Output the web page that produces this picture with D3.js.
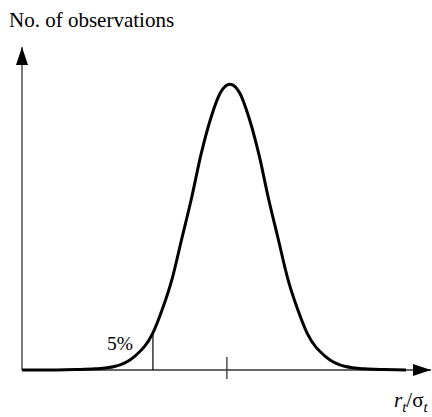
<!DOCTYPE html>
<html>
<head>
<meta charset="utf-8">
<script src="https://cdn.jsdelivr.net/npm/d3@7"></script>
<style>
  body { margin: 0; background: #fff; }
</style>
</head>
<body>
<script>
var width = 432, height = 417;
var serif = "'Liberation Serif', 'Times New Roman', Times, 'DejaVu Serif', serif";

// curve: x in units of sigma from the mean, y relative to peak
var curveX = [-5.4, -4.5, -4, -3.5, -3, -2.5, -2, -1.75, -1.5, -1.25, -1, -0.75, -0.5, -0.25, 0,
              0.25, 0.5, 0.75, 1, 1.25, 1.5, 1.75, 2, 2.5, 3, 3.5, 4, 4.57];
var curveY = [0, 0.0003, 0.0015, 0.004, 0.012, 0.045, 0.13, 0.215, 0.32, 0.46, 0.6, 0.755, 0.88, 0.97, 1,
              0.97, 0.88, 0.755, 0.6, 0.46, 0.32, 0.215, 0.13, 0.045, 0.012, 0.004, 0.0015, 0];
var cutoff = -2;     // the 5% line
var meanTick = -0.08;
var yLabel = "No. of observations";
var cutLabel = "5%";

var x = d3.scaleLinear().domain([-5.4, 5.22]).range([22, 431]);
var y = d3.scaleLinear().domain([0, 1.13]).range([370, 47]);

var svg = d3.select("body").append("svg")
    .attr("width", width)
    .attr("height", height);

var defs = svg.append("defs");
defs.append("marker")
    .attr("id", "arrow")
    .attr("viewBox", "0 0 18 12")
    .attr("refX", 18).attr("refY", 6)
    .attr("markerWidth", 18).attr("markerHeight", 12)
    .attr("markerUnits", "userSpaceOnUse")
    .attr("orient", "auto")
  .append("path")
    .attr("d", "M0,0L18,6L0,12Z")
    .attr("fill", "#000");

// axes
svg.append("line")
    .attr("x1", x(-5.4)).attr("y1", y(0))
    .attr("x2", x(5.22)).attr("y2", y(0))
    .attr("stroke", "#333").attr("stroke-width", 1.3)
    .attr("marker-end", "url(#arrow)");
svg.append("line")
    .attr("x1", x(-5.4)).attr("y1", y(0))
    .attr("x2", x(-5.4)).attr("y2", y(1.13))
    .attr("stroke", "#333").attr("stroke-width", 1.3)
    .attr("marker-end", "url(#arrow)");

// tick at the mean
svg.append("line")
    .attr("x1", x(meanTick)).attr("x2", x(meanTick))
    .attr("y1", y(0) - 13).attr("y2", y(0) + 9)
    .attr("stroke", "#333").attr("stroke-width", 1.3);

// 5% line
var cutIdx = curveX.indexOf(cutoff);
svg.append("line")
    .attr("x1", x(cutoff)).attr("x2", x(cutoff))
    .attr("y1", y(0)).attr("y2", y(curveY[cutIdx]))
    .attr("stroke", "#000").attr("stroke-width", 1.2);

var line = d3.line()
    .x(function(d, i) { return x(curveX[i]); })
    .y(function(d) { return y(d); })
    .curve(d3.curveMonotoneX);

svg.append("path")
    .datum(curveY)
    .attr("d", line)
    .attr("fill", "none")
    .attr("stroke", "#000")
    .attr("stroke-width", 3);

// labels
svg.append("text")
    .attr("x", 9).attr("y", 27)
    .attr("font-family", serif)
    .attr("font-size", 21)
    .text(yLabel);

svg.append("text")
    .attr("x", 107).attr("y", 350)
    .attr("font-family", serif)
    .attr("font-size", 19.5)
    .text(cutLabel);

var xl = svg.append("text")
    .attr("x", 394).attr("y", 407)
    .attr("font-family", serif)
    .attr("font-size", 21);
xl.append("tspan").attr("font-style", "italic").text("r");
xl.append("tspan").attr("font-style", "italic").attr("font-size", 15).attr("dy", 5).text("t");
xl.append("tspan").attr("dy", -5).text("/σ");
xl.append("tspan").attr("font-style", "italic").attr("font-size", 15).attr("dy", 5).text("t");
</script>
</body>
</html>
